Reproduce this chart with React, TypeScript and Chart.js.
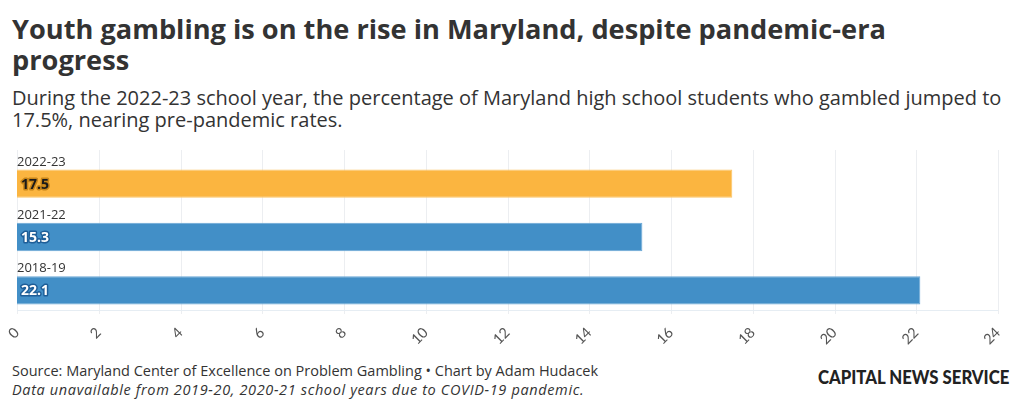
import React, { useEffect, useRef } from "react";
import { Chart, registerables } from "chart.js";

Chart.register(...registerables);

const categories = ["2022-23", "2021-22", "2018-19"];
const values = [17.5, 15.3, 22.1];
const barColors = ["#FBB540", "#428FC7", "#428FC7"];
const barBorders = ["#FCC464", "#69A7D6", "#69A7D6"];
const labelText = ["#1a1a1a", "#ffffff", "#ffffff"];
const labelHalo = ["#C8861A", "#1E5E98", "#1E5E98"];
const xTicks = [0, 2, 4, 6, 8, 10, 12, 14, 16, 18, 20, 22, 24];

const SHIFT = 7;

const decorPlugin = {
  id: "decor",
  beforeDatasetsDraw(chart: any) {
    const { ctx, chartArea, scales } = chart;
    const x = scales.x;
    const top = chartArea.top - SHIFT;
    const bottom = chartArea.bottom - SHIFT;
    ctx.save();
    ctx.strokeStyle = "#ECEEF1";
    ctx.lineWidth = 1;
    xTicks.forEach((t) => {
      const px = Math.round(x.getPixelForValue(t)) + 0.5;
      ctx.beginPath();
      ctx.moveTo(px, top);
      ctx.lineTo(px, bottom + 4);
      ctx.stroke();
    });
    ctx.strokeStyle = "#E6EDF3";
    ctx.beginPath();
    ctx.moveTo(chartArea.left, Math.round(bottom) + 0.5);
    ctx.lineTo(chartArea.right, Math.round(bottom) + 0.5);
    ctx.stroke();
    ctx.restore();
  },
  afterDatasetsDraw(chart: any) {
    const { ctx } = chart;
    const meta = chart.getDatasetMeta(0);
    ctx.save();
    meta.data.forEach((bar: any, i: number) => {
      const h = bar.height;
      const topY = bar.y - h / 2;
      ctx.font = "13px 'Open Sans', sans-serif";
      ctx.fillStyle = "#333333";
      ctx.textAlign = "left";
      ctx.textBaseline = "alphabetic";
      ctx.fillText(categories[i], bar.base, topY - 4);
      ctx.font = "bold 14px 'Open Sans', sans-serif";
      ctx.textBaseline = "middle";
      ctx.lineJoin = "round";
      ctx.lineWidth = 3;
      ctx.strokeStyle = labelHalo[i];
      const txt = values[i].toFixed(1);
      ctx.strokeText(txt, bar.base + 4, bar.y + 1);
      ctx.fillStyle = labelText[i];
      ctx.fillText(txt, bar.base + 4, bar.y + 1);
    });
    ctx.restore();
  },
};

function ChartBox() {
  const ref = useRef<HTMLCanvasElement | null>(null);
  useEffect(() => {
    document.body.style.margin = "0";
    const chart = new Chart(ref.current as HTMLCanvasElement, {
      type: "bar",
      data: {
        labels: categories,
        datasets: [
          {
            data: values,
            backgroundColor: barColors,
            borderColor: barBorders,
            borderWidth: 1,
            barPercentage: 0.53,
            categoryPercentage: 1,
          },
        ],
      },
      options: {
        indexAxis: "y",
        animation: false,
        responsive: false,
        maintainAspectRatio: false,
        layout: { padding: { left: 17, right: 22, top: 17, bottom: 0 } },
        plugins: { legend: { display: false }, tooltip: { enabled: false } },
        scales: {
          y: { type: "category", display: false, offset: true },
          x: {
            type: "linear",
            min: 0,
            max: 24,
            afterBuildTicks: (s: any) => {
              s.ticks = xTicks.map((v) => ({ value: v }));
            },
            afterFit: (s: any) => {
              s.paddingLeft = 0;
              s.paddingRight = 0;
              s.height = 33;
            },
            grid: { display: false },
            border: { display: false },
            ticks: {
              autoSkip: false,
              minRotation: 45,
              maxRotation: 45,
              padding: -1,
              color: "#555555",
              font: { family: "Lato, sans-serif", size: 14.5 },
            },
          },
        },
      },
      plugins: [decorPlugin],
    } as any);
    return () => chart.destroy();
  }, []);
  return <canvas ref={ref} width={1020} height={210} style={{ position: "absolute", left: 0, top: 140 }} />;
}

export default function App() {
  const base: React.CSSProperties = { position: "absolute", margin: 0, whiteSpace: "nowrap", color: "#333333" };
  return (
    <div style={{ position: "relative", width: 1020, height: 410, background: "#fff", overflow: "hidden", fontFamily: "'Open Sans', sans-serif" }}>
      <div style={{ ...base, left: 12, top: 13, fontSize: 27.2, fontWeight: 700, lineHeight: "31px" }}>
        Youth gambling is on the rise in Maryland, despite pandemic-era
        <br />
        progress
      </div>
      <div style={{ ...base, left: 12, top: 87, fontSize: 20, lineHeight: "22px" }}>
        During the 2022-23 school year, the percentage of Maryland high school students who gambled jumped to
        <br />
        17.5%, nearing pre-pandemic rates.
      </div>
      <ChartBox />
      <div style={{ ...base, left: 12, top: 361, fontSize: 14.5, lineHeight: "19px" }}>
        Source: Maryland Center of Excellence on Problem Gambling • Chart by Adam Hudacek
      </div>
      <div style={{ ...base, left: 12, top: 380, fontSize: 14.5, lineHeight: "19px", fontStyle: "italic", letterSpacing: 0.64 }}>
        Data unavailable from 2019-20, 2020-21 school years due to COVID-19 pandemic.
      </div>
      <div style={{ ...base, left: 818, top: 366, fontSize: 18, lineHeight: "22px", fontWeight: 900, fontFamily: "Lato, sans-serif", color: "#222", transform: "scaleX(0.93)", transformOrigin: "left center" }}>
        CAPITAL NEWS SERVICE
      </div>
    </div>
  );
}
